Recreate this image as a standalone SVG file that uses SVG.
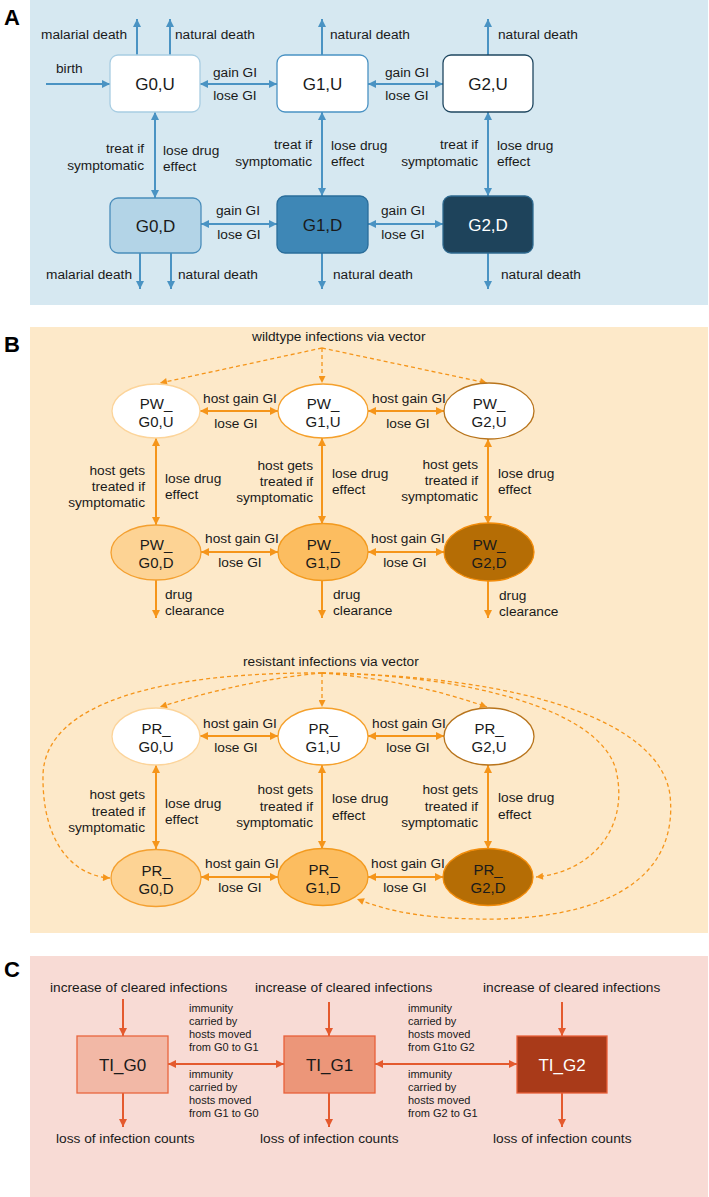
<svg xmlns="http://www.w3.org/2000/svg" width="709" height="1197" viewBox="0 0 709 1197">
<style>
text{font-family:"Liberation Sans",Arial,Helvetica,sans-serif;fill:#1a1a1a}
.lbl{font-size:13.7px}
.sm{font-size:11px}
.node{font-size:17px;text-anchor:middle}
.pn{font-size:15px;text-anchor:middle}
.panel{font-size:22px;font-weight:bold;fill:#000}
.m{text-anchor:middle}
.e{text-anchor:end}
.w{fill:#fff}
.ab{stroke:#4a93c3;stroke-width:2;fill:none}
.ao{stroke:#f5951a;stroke-width:2;fill:none}
.ad{stroke:#f5951a;stroke-width:1.3;fill:none;stroke-dasharray:4 3}
.ar{stroke:#e45a2e;stroke-width:2;fill:none}
.bn{stroke-width:1.3}
</style>
<defs>
<marker id="hb" viewBox="0 0 10 10" refX="10" refY="5" markerWidth="9" markerHeight="8" markerUnits="userSpaceOnUse" orient="auto-start-reverse"><path d="M0,0L10,5L0,10z" fill="#4a93c3"/></marker>
<marker id="ho" viewBox="0 0 10 10" refX="10" refY="5" markerWidth="9" markerHeight="8" markerUnits="userSpaceOnUse" orient="auto-start-reverse"><path d="M0,0L10,5L0,10z" fill="#f5951a"/></marker>
<marker id="hd" viewBox="0 0 10 10" refX="10" refY="5" markerWidth="8" markerHeight="7" markerUnits="userSpaceOnUse" orient="auto-start-reverse"><path d="M0,0L10,5L0,10z" fill="#f5951a"/></marker>
<marker id="hr" viewBox="0 0 10 10" refX="10" refY="5" markerWidth="9" markerHeight="8" markerUnits="userSpaceOnUse" orient="auto-start-reverse"><path d="M0,0L10,5L0,10z" fill="#e45a2e"/></marker>
</defs>

<g id="backgrounds">
<rect x="30" y="0" width="678" height="305" fill="#d6e8f1"/>
<rect x="30" y="327" width="678" height="606" fill="#fde9c9"/>
<rect x="30" y="956" width="678" height="241" fill="#f8dbd5"/>
<text class="panel" x="4" y="25">A</text>
<text class="panel" x="4" y="352">B</text>
<text class="panel" x="4" y="977">C</text>
</g>

<g id="connectors">
<!-- Panel A -->
<g marker-end="url(#hb)" class="ab">
<path d="M137,55V19"/><path d="M170,55V19"/><path d="M322,55V19"/><path d="M488,55V19"/>
<path d="M46,84H110"/>
<path d="M140,253V289"/><path d="M171,253V289"/><path d="M322,253V289"/><path d="M488,253V289"/>
</g>
<g marker-start="url(#hb)" marker-end="url(#hb)" class="ab">
<path d="M200,84H277"/><path d="M368,84H443"/>
<path d="M155,112V198"/><path d="M322,112V196"/><path d="M488,112V196"/>
<path d="M201,224H277"/><path d="M368,224H443"/>
</g>
<!-- Panel B wildtype -->
<g marker-end="url(#hd)" class="ad">
<path d="M322,348L160,383"/><path d="M322,348V383"/><path d="M322,348L487,383"/>
</g>
<g marker-start="url(#ho)" marker-end="url(#ho)" class="ao">
<path d="M200,411H278"/><path d="M368,411H444"/>
<path d="M156,438V525"/><path d="M322,438V524"/><path d="M488,439V524"/>
<path d="M201,552H278"/><path d="M368,552H444"/>
</g>
<g marker-end="url(#ho)" class="ao">
<path d="M156,580V618"/><path d="M322,580V618"/><path d="M488,581V618"/>
</g>
<!-- Panel B resistant -->
<g marker-end="url(#hd)" class="ad">
<path d="M322,673Q245,680 160,707"/>
<path d="M322,673C170,672 45,700 43,775C42,845 75,876 110,878"/>
<path d="M322,673V707"/>
<path d="M322,673Q410,680 487,707"/>
<path d="M322,673C470,675 600,710 616,770C630,830 590,872 536,877"/>
<path d="M322,673C520,676 660,720 670,795C678,870 620,915 500,919C430,920 390,912 357,899"/>
</g>
<g marker-start="url(#ho)" marker-end="url(#ho)" class="ao">
<path d="M200,736H278"/><path d="M368,736H444"/>
<path d="M156,765V849"/><path d="M322,765V849"/><path d="M488,765V849"/>
<path d="M201,877H278"/><path d="M368,877H443"/>
</g>
<!-- Panel C -->
<g marker-end="url(#hr)" class="ar">
<path d="M123,999V1036"/><path d="M329,1002V1036"/><path d="M562,1002V1036"/>
<path d="M123,1093V1127"/><path d="M329,1093V1127"/><path d="M562,1093V1127"/>
</g>
<g marker-start="url(#hr)" marker-end="url(#hr)" class="ar">
<path d="M168,1064H284"/><path d="M375,1064H517"/>
</g>
</g>

<g id="labels-A" class="lbl">
<text class="e" x="127" y="39">malarial death</text>
<text x="175" y="39">natural death</text>
<text x="330" y="39">natural death</text>
<text x="498" y="39">natural death</text>
<text x="56" y="73">birth</text>
<text class="m" x="235" y="77">gain GI</text>
<text class="m" x="235" y="100">lose GI</text>
<text class="m" x="407" y="77">gain GI</text>
<text class="m" x="407" y="100">lose GI</text>
<text class="e" x="144" y="153">treat if</text>
<text class="e" x="144" y="170">symptomatic</text>
<text x="163" y="155">lose drug</text>
<text x="163" y="171">effect</text>
<text class="e" x="312" y="149">treat if</text>
<text class="e" x="312" y="166">symptomatic</text>
<text x="331" y="150">lose drug</text>
<text x="331" y="166">effect</text>
<text class="e" x="478" y="149">treat if</text>
<text class="e" x="478" y="166">symptomatic</text>
<text x="497" y="150">lose drug</text>
<text x="497" y="166">effect</text>
<text class="m" x="238" y="215">gain GI</text>
<text class="m" x="239" y="239">lose GI</text>
<text class="m" x="403" y="215">gain GI</text>
<text class="m" x="403" y="239">lose GI</text>
<text class="e" x="132" y="279">malarial death</text>
<text x="178" y="279">natural death</text>
<text x="333" y="279">natural death</text>
<text x="501" y="279">natural death</text>
</g>

<g id="node-G0U"><rect x="110" y="55" width="90" height="57" rx="8" fill="#fff" stroke="#a8cde2" class="bn"/><text class="node" x="155" y="90">G0,U</text></g>
<g id="node-G1U"><rect x="277" y="55" width="91" height="57" rx="8" fill="#fff" stroke="#4a92c3" class="bn"/><text class="node" x="322.5" y="90">G1,U</text></g>
<g id="node-G2U"><rect x="443" y="55" width="90" height="57" rx="8" fill="#fff" stroke="#1f4760" class="bn"/><text class="node" x="488" y="90">G2,U</text></g>
<g id="node-G0D"><rect x="110" y="198" width="91" height="55" rx="8" fill="#b3d4e7" stroke="#4a8dbb" class="bn"/><text class="node" x="155.5" y="232">G0,D</text></g>
<g id="node-G1D"><rect x="277" y="196" width="91" height="57" rx="8" fill="#3e87b6" stroke="#2a6d9a" class="bn"/><text class="node" x="322.5" y="230.5">G1,D</text></g>
<g id="node-G2D"><rect x="443" y="196" width="90" height="57" rx="8" fill="#1e435b" stroke="#2f6a90" class="bn"/><text class="node w" x="488" y="230.5">G2,D</text></g>

<g id="labels-B" class="lbl">
<text x="252" y="341">wildtype infections via vector</text>
<text class="m" x="240" y="403">host gain GI</text>
<text class="m" x="236" y="428">lose GI</text>
<text class="m" x="409" y="403">host gain GI</text>
<text class="m" x="408" y="428">lose GI</text>
<text class="e" x="145" y="475">host gets</text>
<text class="e" x="145" y="491">treated if</text>
<text class="e" x="145" y="507">symptomatic</text>
<text x="165" y="483">lose drug</text>
<text x="165" y="499">effect</text>
<text class="e" x="313" y="470">host gets</text>
<text class="e" x="313" y="486">treated if</text>
<text class="e" x="313" y="502">symptomatic</text>
<text x="332" y="478">lose drug</text>
<text x="332" y="494">effect</text>
<text class="e" x="478" y="469">host gets</text>
<text class="e" x="478" y="485">treated if</text>
<text class="e" x="478" y="501">symptomatic</text>
<text x="498" y="478">lose drug</text>
<text x="498" y="494">effect</text>
<text class="m" x="242" y="543">host gain GI</text>
<text class="m" x="240" y="567">lose GI</text>
<text class="m" x="408" y="543">host gain GI</text>
<text class="m" x="405" y="567">lose GI</text>
<text x="165" y="599">drug</text>
<text x="165" y="615">clearance</text>
<text x="333" y="599">drug</text>
<text x="333" y="615">clearance</text>
<text x="499" y="600">drug</text>
<text x="499" y="616">clearance</text>

<text x="243" y="666">resistant infections via vector</text>
<text class="m" x="240" y="728">host gain GI</text>
<text class="m" x="236" y="752">lose GI</text>
<text class="m" x="409" y="728">host gain GI</text>
<text class="m" x="408" y="752">lose GI</text>
<text class="e" x="145" y="799">host gets</text>
<text class="e" x="145" y="815.5">treated if</text>
<text class="e" x="145" y="832">symptomatic</text>
<text x="165" y="807.5">lose drug</text>
<text x="165" y="824">effect</text>
<text class="e" x="313" y="794">host gets</text>
<text class="e" x="313" y="811">treated if</text>
<text class="e" x="313" y="827">symptomatic</text>
<text x="332" y="803">lose drug</text>
<text x="332" y="820">effect</text>
<text class="e" x="478" y="794">host gets</text>
<text class="e" x="478" y="811">treated if</text>
<text class="e" x="478" y="827">symptomatic</text>
<text x="498" y="802">lose drug</text>
<text x="498" y="818.5">effect</text>
<text class="m" x="242" y="868">host gain GI</text>
<text class="m" x="240" y="892">lose GI</text>
<text class="m" x="408" y="868">host gain GI</text>
<text class="m" x="405" y="892">lose GI</text>
</g>

<g id="node-PW_G0U"><ellipse cx="156" cy="411" rx="44" ry="27" fill="#fff" stroke="#fcd49a" class="bn"/><text class="pn" x="156" y="408.5">PW_</text><text class="pn" x="156" y="426.5">G0,U</text></g>
<g id="node-PW_G1U"><ellipse cx="323" cy="411" rx="45" ry="27" fill="#fff" stroke="#f5a02b" class="bn"/><text class="pn" x="323" y="408.5">PW_</text><text class="pn" x="323" y="426.5">G1,U</text></g>
<g id="node-PW_G2U"><ellipse cx="489" cy="411" rx="45" ry="28" fill="#fff" stroke="#b8741c" class="bn"/><text class="pn" x="489" y="408.5">PW_</text><text class="pn" x="489" y="426.5">G2,U</text></g>
<g id="node-PW_G0D"><ellipse cx="156" cy="552.5" rx="45" ry="27.5" fill="#fdd394" stroke="#f4a030" class="bn"/><text class="pn" x="156" y="550">PW_</text><text class="pn" x="156" y="568">G0,D</text></g>
<g id="node-PW_G1D"><ellipse cx="323" cy="552" rx="45" ry="28.5" fill="#fcbd60" stroke="#f39a1e" class="bn"/><text class="pn" x="323" y="549.5">PW_</text><text class="pn" x="323" y="567.5">G1,D</text></g>
<g id="node-PW_G2D"><ellipse cx="489" cy="552" rx="45" ry="29" fill="#b56d05" stroke="#f28c0a" class="bn"/><text class="pn" x="489" y="549.5">PW_</text><text class="pn" x="489" y="567.5">G2,D</text></g>

<g id="node-PR_G0U"><ellipse cx="156" cy="736.5" rx="44" ry="28.5" fill="#fff" stroke="#fcd49a" class="bn"/><text class="pn" x="156" y="734">PR_</text><text class="pn" x="156" y="752">G0,U</text></g>
<g id="node-PR_G1U"><ellipse cx="323" cy="736.5" rx="45" ry="28.5" fill="#fff" stroke="#f5a02b" class="bn"/><text class="pn" x="323" y="734">PR_</text><text class="pn" x="323" y="752">G1,U</text></g>
<g id="node-PR_G2U"><ellipse cx="489" cy="736.5" rx="45" ry="28.5" fill="#fff" stroke="#b8741c" class="bn"/><text class="pn" x="489" y="734">PR_</text><text class="pn" x="489" y="752">G2,U</text></g>
<g id="node-PR_G0D"><ellipse cx="156" cy="878" rx="45" ry="28.5" fill="#fdd394" stroke="#f4a030" class="bn"/><text class="pn" x="156" y="875.5">PR_</text><text class="pn" x="156" y="893.5">G0,D</text></g>
<g id="node-PR_G1D"><ellipse cx="323" cy="877" rx="45" ry="28.5" fill="#fcbd60" stroke="#f39a1e" class="bn"/><text class="pn" x="323" y="874.5">PR_</text><text class="pn" x="323" y="892.5">G1,D</text></g>
<g id="node-PR_G2D"><ellipse cx="488" cy="877" rx="45" ry="28.5" fill="#b56d05" stroke="#f28c0a" class="bn"/><text class="pn" x="488" y="874.5">PR_</text><text class="pn" x="488" y="892.5">G2,D</text></g>

<g id="labels-C">
<text class="lbl" x="50" y="992">increase of cleared infections</text>
<text class="lbl" x="255" y="992">increase of cleared infections</text>
<text class="lbl" x="483" y="992">increase of cleared infections</text>
<text class="lbl" x="56" y="1143">loss of infection counts</text>
<text class="lbl" x="260" y="1143">loss of infection counts</text>
<text class="lbl" x="493" y="1143">loss of infection counts</text>
<text class="sm" x="189" y="1012">immunity</text>
<text class="sm" x="189" y="1025">carried by</text>
<text class="sm" x="189" y="1038">hosts moved</text>
<text class="sm" x="189" y="1051">from G0 to G1</text>
<text class="sm" x="189" y="1078">immunity</text>
<text class="sm" x="189" y="1091">carried by</text>
<text class="sm" x="189" y="1104">hosts moved</text>
<text class="sm" x="189" y="1117">from G1 to G0</text>
<text class="sm" x="408" y="1012">immunity</text>
<text class="sm" x="408" y="1025">carried by</text>
<text class="sm" x="408" y="1038">hosts moved</text>
<text class="sm" x="408" y="1051">from G1to G2</text>
<text class="sm" x="408" y="1078">immunity</text>
<text class="sm" x="408" y="1091">carried by</text>
<text class="sm" x="408" y="1104">hosts moved</text>
<text class="sm" x="408" y="1117">from G2 to G1</text>
</g>

<g id="node-TI_G0"><rect x="77" y="1036" width="91" height="57" fill="#f2b8a6" stroke="#e8663e" class="bn"/><text class="node" x="122.5" y="1071">TI_G0</text></g>
<g id="node-TI_G1"><rect x="284" y="1036" width="91" height="57" fill="#ec9679" stroke="#e8603a" class="bn"/><text class="node" x="329.5" y="1071">TI_G1</text></g>
<g id="node-TI_G2"><rect x="517" y="1036" width="90" height="57" fill="#a93a19" stroke="#e8603a" class="bn"/><text class="node w" x="562" y="1071">TI_G2</text></g>
</svg>
